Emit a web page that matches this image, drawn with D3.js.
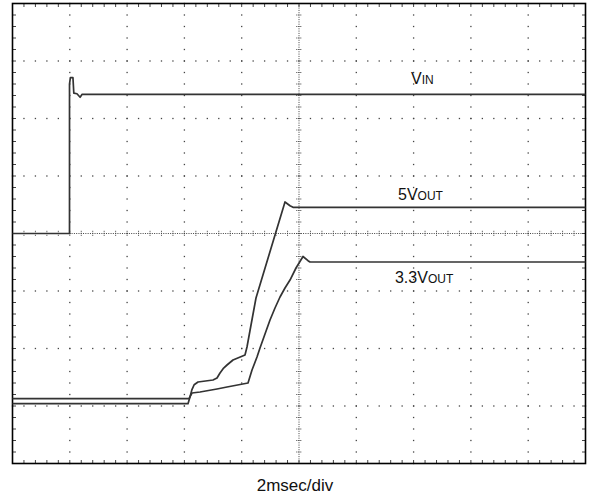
<!DOCTYPE html>
<html><head><meta charset="utf-8">
<script src="https://cdn.jsdelivr.net/npm/d3@7"></script>
<style>html,body{margin:0;padding:0;background:#fff;} svg{display:block;}</style>
</head><body>
<svg id="c" width="590" height="499"></svg>
<script>
// time axis in ms (2 ms/div, 10 divisions); vertical axis in screen divisions (8 divisions)
const timeDomain = [0, 20];
const divDomain = [-4, 4];

// [time ms, divisions]
const vinTrace = [[0,0],[1.99,0],[1.99,2.60],[2.02,2.71],[2.11,2.71],[2.14,2.44],[2.25,2.43],[2.36,2.37],[2.43,2.42],[20,2.42]];
const v5Trace = [[0,-2.96],[6.126,-2.96],[6.195,-2.843],[6.260,-2.720],[6.340,-2.630],[6.475,-2.583],[6.998,-2.548],[7.138,-2.513],[7.243,-2.426],[7.370,-2.340],[7.487,-2.287],[7.696,-2.200],[8.115,-2.113],[8.185,-1.974],[8.290,-1.687],[8.499,-1.122],[9.511,0.548],[9.686,0.483],[9.791,0.456],[20,0.456]];
const v33Trace = [[0,-2.873],[6.161,-2.873],[6.265,-2.774],[6.545,-2.757],[7.138,-2.704],[7.487,-2.670],[8.220,-2.600],[8.360,-2.374],[8.534,-2.148],[8.639,-1.991],[8.813,-1.748],[8.988,-1.504],[9.162,-1.296],[9.337,-1.104],[9.511,-0.948],[9.686,-0.809],[9.895,-0.600],[10.140,-0.400],[10.314,-0.473],[10.384,-0.496],[20,-0.496]];

const labelMain = ["V", "5V", "3.3V"];
const labelSub = ["IN", "OUT", "OUT"];
const xAxisLabel = "2msec/div";

const svg = d3.select("#c");
const x = d3.scaleLinear().domain(timeDomain).range([12.5, 585.5]);
const y = d3.scaleLinear().domain(divDomain).range([463.5, 3.5]);
const X0 = x(0), X1 = x(20), Y0 = y(4), Y1 = y(-4);
const dotColor = "#444";

const g = svg.append("g");

// minor positions
const tMinor = d3.range(0, 51).map(j => j * 0.4);
const dMinor = d3.range(0, 41).map(j => -4 + j * 0.2);

// major dotted grid lines (not centre)
const tMajor = d3.range(1, 10).map(k => k * 2).filter(t => t !== 10);
const dMajor = d3.range(-3, 4).filter(d => d !== 0);
const dots = [];
tMajor.forEach(t => dMinor.forEach(d => dots.push([x(t), y(d)])));
dMajor.forEach(d => tMinor.forEach(t => dots.push([x(t), y(d)])));
g.selectAll("rect.dot").data(dots).join("rect").attr("class","dot")
  .attr("x", d => d[0] - 0.65).attr("y", d => d[1] - 0.65)
  .attr("width", 1.3).attr("height", 1.3).attr("fill", dotColor);

// centre lines: dense dots
const tDense = d3.range(0, 251).map(j => j * 0.08);
const dDense = d3.range(0, 201).map(j => -4 + j * 0.04);
g.selectAll("rect.dh").data(tDense).join("rect")
  .attr("x", t => x(t) - 0.5).attr("y", y(0) - 0.5).attr("width", 1).attr("height", 1).attr("fill", dotColor);
g.selectAll("rect.dv").data(dDense).join("rect")
  .attr("x", x(10) - 0.5).attr("y", d => y(d) - 0.5).attr("width", 1).attr("height", 1).attr("fill", dotColor);
// centre ticks
g.selectAll("line.ch").data(tMinor).join("line")
  .attr("x1", t => x(t)).attr("x2", t => x(t)).attr("y1", y(0) - 2.7).attr("y2", y(0) + 2.7)
  .attr("stroke", dotColor).attr("stroke-width", 1).attr("stroke-dasharray", "1,1");
g.selectAll("line.cv").data(dMinor).join("line")
  .attr("y1", d => y(d)).attr("y2", d => y(d)).attr("x1", x(10) - 2.7).attr("x2", x(10) + 2.7)
  .attr("stroke", dotColor).attr("stroke-width", 1).attr("stroke-dasharray", "1,1");

// border ticks
const bt = [];
tMinor.forEach(t => { bt.push([x(t), Y0, x(t), Y0 + 3.5]); bt.push([x(t), Y1, x(t), Y1 - 3.5]); });
dMinor.forEach(d => { bt.push([X0, y(d), X0 + 3.5, y(d)]); bt.push([X1, y(d), X1 - 3.5, y(d)]); });
g.selectAll("line.bt").data(bt).join("line")
  .attr("x1", d => d[0]).attr("y1", d => d[1]).attr("x2", d => d[2]).attr("y2", d => d[3])
  .attr("stroke", "#444").attr("stroke-width", 1);

// frame
g.append("rect").attr("x", X0).attr("y", Y0).attr("width", X1 - X0).attr("height", Y1 - Y0)
  .attr("fill", "none").attr("stroke", "#000").attr("stroke-width", 1.6);

// traces
const line = d3.line().x(d => x(d[0])).y(d => y(d[1]));
[vinTrace, v5Trace, v33Trace].forEach(tr => {
  g.append("path").attr("d", line(tr)).attr("fill", "none")
    .attr("stroke", "#333").attr("stroke-width", 1.7).attr("stroke-linejoin", "round");
});

// labels
const labelAnchors = [[13.91, 2.60], [13.455, 0.583], [13.35, -0.861]];
labelMain.forEach((m, i) => {
  const t = g.append("text").attr("x", x(labelAnchors[i][0])).attr("y", y(labelAnchors[i][1]))
    .attr("font-family", "'Liberation Sans', Arial, Helvetica, sans-serif").attr("fill", "#111");
  t.append("tspan").attr("font-size", 16).text(m);
  t.append("tspan").attr("font-size", 12).text(labelSub[i]);
});

svg.append("text").attr("x", 295).attr("y", 491).attr("text-anchor", "middle")
  .attr("font-family", "'Liberation Sans', Arial, Helvetica, sans-serif").attr("font-size", 17)
  .attr("fill", "#111").text(xAxisLabel);
</script>
</body></html>
